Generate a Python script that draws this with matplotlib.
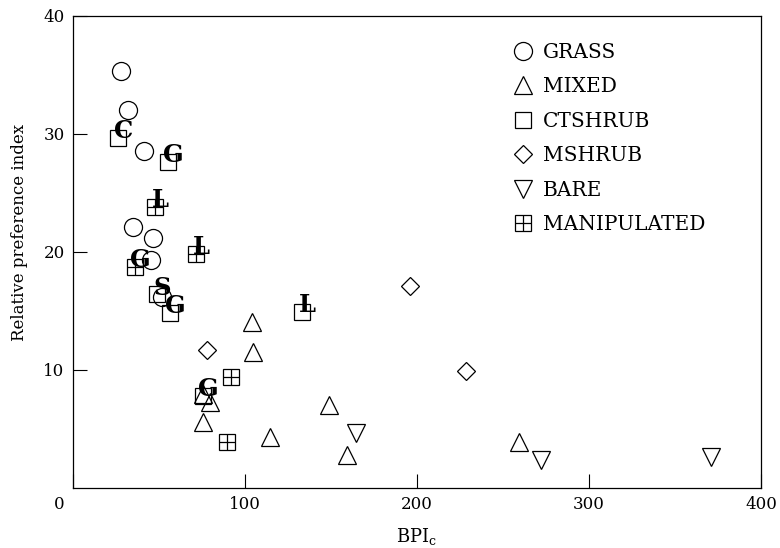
import numpy as np
import matplotlib
matplotlib.use('Agg')
import matplotlib.pyplot as plt
from matplotlib.transforms import ScaledTranslation

plt.rcParams['font.family'] = 'DejaVu Serif'
plt.rcParams['mathtext.fontset'] = 'dejavuserif'

# values (BPI_c, relative preference index)
grass_x = [27.9, 32.0, 41.5, 34.9, 46.5, 45.3, 51.7]
grass_y = [35.3, 32.0, 28.6, 22.1, 21.2, 19.3, 16.2]

mixed_x = [104.0, 104.7, 75.6, 79.7, 75.6, 114.5, 148.8, 159.3, 259.3]
mixed_y = [14.1, 11.5, 8.0, 7.3, 5.6, 4.3, 7.0, 2.8, 3.9]

ctshrub_x = [26.2, 55.2, 48.8, 56.4, 133.1, 75.6]
ctshrub_y = [29.7, 27.6, 16.4, 14.8, 14.9, 7.8]
ctshrub_tags = ['C', 'G', 'S', 'G', 'L', 'G']

mshrub_x = [78.0, 196.0, 228.5]
mshrub_y = [11.7, 17.1, 9.9]

bare_x = [164.5, 272.0, 371.0]
bare_y = [4.7, 2.4, 2.6]

manip_x = [47.7, 71.5, 36.0, 91.9, 89.5]
manip_y = [23.8, 19.8, 18.7, 9.4, 3.9]
manip_tags = ['L', 'L', 'G', '', '']

x_ticks = [0, 100, 200, 300, 400]
y_ticks = [10, 20, 30, 40]

fig = plt.figure(figsize=(7.8, 5.48), dpi=100)
ax = fig.add_axes([73 / 780, 60 / 548, 688 / 780, 472 / 548])

mk = dict(linestyle='none', markerfacecolor='none', markeredgecolor='black',
          markeredgewidth=0.9)
h_grass, = ax.plot(grass_x, grass_y, marker='o', ms=13, **mk)
h_mixed, = ax.plot(mixed_x, mixed_y, marker='^', ms=13, **mk)
h_ct, = ax.plot(ctshrub_x, ctshrub_y, marker='s', ms=12, **mk)
h_ms, = ax.plot(mshrub_x, mshrub_y, marker='D', ms=9.5, **mk)
h_bare, = ax.plot(bare_x, bare_y, marker='v', ms=13, **mk)
h_man_s, = ax.plot(manip_x, manip_y, marker='s', ms=12, **mk)
h_man_p, = ax.plot(manip_x, manip_y, marker='+', ms=12, **mk)

# habitat letters written over some of the squares
for xs, ys, tags in [(ctshrub_x, ctshrub_y, ctshrub_tags),
                     (manip_x, manip_y, manip_tags)]:
    for x, y, t in zip(xs, ys, tags):
        if t:
            ax.annotate(t, (x, y), xytext=(4, 5), textcoords='offset points',
                        ha='center', va='center', fontsize=17.5,
                        fontweight='bold')

ax.set_xlim(0, 400)
ax.set_ylim(0, 40)
ax.set_xticks(x_ticks)
ax.set_yticks(y_ticks)
ax.tick_params(direction='in', length=10, width=0.8, labelsize=12)
ax.tick_params(axis='x', pad=6)
ax.tick_params(axis='y', pad=6)
for s in ax.spines.values():
    s.set_linewidth(0.9)

# the corner "0" sits left of the frame
lab0 = ax.get_xticklabels()[0]
lab0.set_transform(lab0.get_transform() +
                   ScaledTranslation(-0.14, 0, fig.dpi_scale_trans))

ax.set_xlabel('BPI$_\\mathrm{c}$', fontsize=13)
ax.xaxis.set_label_coords(0.5, -0.08)
ax.set_ylabel('Relative preference index', fontsize=12)
ax.yaxis.set_label_coords(-0.066, 0.542)

ax.legend([h_grass, h_mixed, h_ct, h_ms, h_bare, (h_man_s, h_man_p)],
          ['GRASS', 'MIXED', 'CTSHRUB', 'MSHRUB', 'BARE', 'MANIPULATED'],
          loc='upper left', bbox_to_anchor=(0.640, 0.943), frameon=False,
          fontsize=14.5, handlelength=0.95, handletextpad=0.5,
          labelspacing=0.77, borderpad=0, borderaxespad=0)

fig.savefig('out.png', dpi=100)
